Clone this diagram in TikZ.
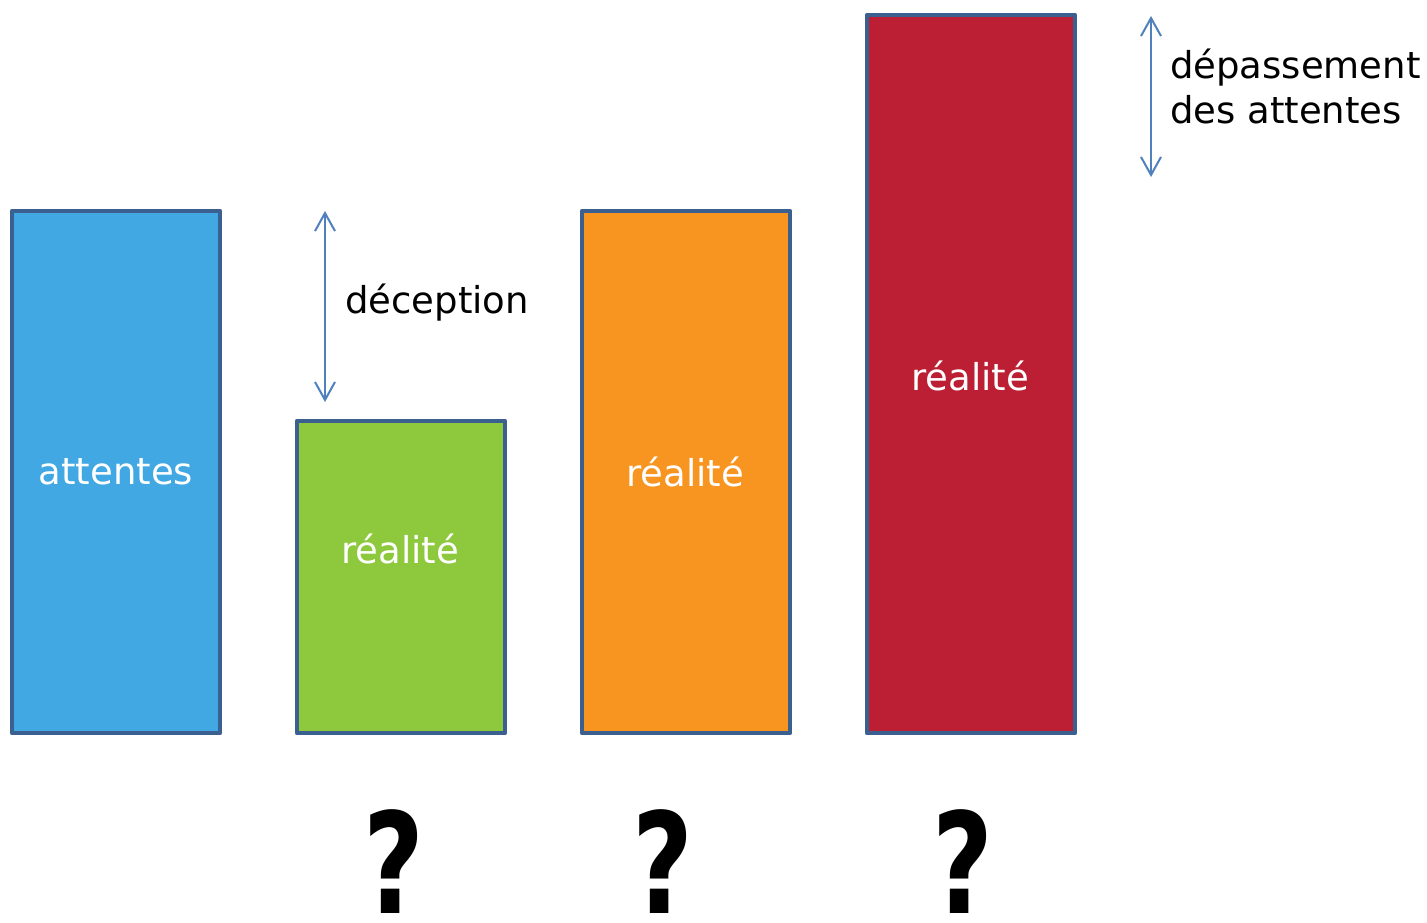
\documentclass[tikz,border=0pt]{standalone}
\usepackage{fontspec}
\setmainfont{DejaVu Sans}
\usetikzlibrary{arrows.meta}
\definecolor{edge}{HTML}{3B6090}
\definecolor{cblue}{HTML}{41A8E3}
\definecolor{cgreen}{HTML}{8DC83D}
\definecolor{corange}{HTML}{F89521}
\definecolor{cred}{HTML}{BC1F33}
\definecolor{arr}{HTML}{4F81BD}
\tikzset{
  bar/.style={draw=edge, line width=4.5pt, line join=round},
  lbl/.style={text=white, font=\fontsize{37}{44}\selectfont, inner sep=0pt},
  note/.style={text=black, font=\fontsize{37}{45}\selectfont, inner sep=0pt, align=left},
  dbl/.style={draw=arr, line width=2pt, {Straight Barb[length=18pt,width=20pt,line width=2pt]}-{Straight Barb[length=18pt,width=20pt,line width=2pt]}},
  qm/.style={font=\bfseries\fontsize{140}{140}\selectfont, inner sep=0pt, anchor=base, xscale=0.75}
}
\begin{document}
\begin{tikzpicture}[x=1pt,y=-1pt]
\useasboundingbox (0,0) rectangle (1427,922);
\fill[white] (0,0) rectangle (1427,922);
% bars
\draw[bar, fill=cblue] (12,211) rectangle (220,733);
\draw[bar, fill=cgreen] (297,421) rectangle (505,733);
\draw[bar, fill=corange] (582,211) rectangle (790,733);
\draw[bar, fill=cred] (867,15) rectangle (1075,733);
\node[lbl] (att) at (116,472) {attentes};
\node[lbl] (r1) at (400,549) {réalité};
\node[lbl] (r2) at (685,472) {réalité};
\node[lbl] (r3) at (970,376) {réalité};
% arrows
\coordinate (a1t) at (325,211);
\coordinate (a1b) at (325,402);
\draw[dbl] (a1t) -- (a1b);
\node[note, anchor=west] (dec) at (345,303) {déception};
\coordinate (a2t) at (1151,16);
\coordinate (a2b) at (1151,177);
\draw[dbl] (a2t) -- (a2b);
\node[note, anchor=west] (dep) at (1170,86) {dépassement\\des attentes};
% question marks
\node[qm] (q1) at (394,913) {?};
\node[qm] (q2) at (663,913) {?};
\node[qm] (q3) at (963,913) {?};
\end{tikzpicture}
\end{document}
